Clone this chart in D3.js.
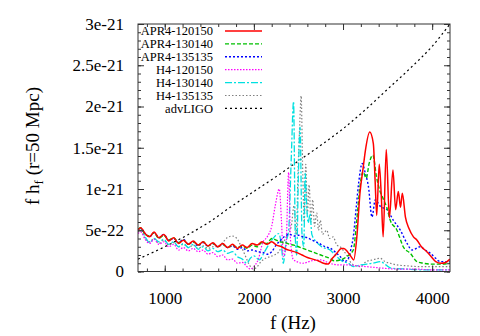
<!DOCTYPE html>
<html><head><meta charset="utf-8">
<script src="https://cdn.jsdelivr.net/npm/d3@7"></script>
<style>
body{margin:0;background:#fff;}
text{font-family:"Liberation Serif","DejaVu Serif",serif;}
</style></head>
<body><svg id="c" width="480" height="336"></svg>
<script>
// values in units of 1e-22
const seriesNames = ["APR4-120150","APR4-130140","APR4-135135","H4-120150","H4-130140","H4-135135","advLIGO"];
const seriesColors = ["#ff0000","#00c000","#0000ff","#ff00ff","#00e0e0","#808080","#000000"];
const seriesDash = [null,"4,2","2,2","1.5,1.5","7,2,2,2","1.5,2","2,3"];
const seriesWidth = [1.5,1.4,1.4,1.2,1.3,1.2,1.2];

const apr4_120150 = [[700,5.0],[730,5.3],[780,4.6],[830,4.2],[880,4.8],[935,4.1],[990,4.5],[1045,3.7],[1100,4.1],[1155,3.4],[1210,3.8],[1265,3.3],[1320,3.7],[1375,3.2],[1430,3.6],[1485,3.1],[1540,3.5],[1595,3.0],[1650,3.4],[1705,2.9],[1760,3.3],[1815,2.8],[1870,3.2],[1925,2.9],[1980,3.4],[2035,3.2],[2090,3.6],[2145,3.3],[2200,3.6],[2255,3.2],[2310,3.0],[2360,2.7],[2420,2.5],[2480,2.3],[2540,2.0],[2600,1.7],[2660,1.5],[2720,1.3],[2780,1.0],[2830,0.9],[2880,1.6],[2930,2.2],[2980,2.8],[3010,2.8],[3050,2.4],[3090,1.8],[3120,1.4],[3155,4.2],[3190,9.5],[3225,12.5],[3250,14.6],[3300,16.9],[3340,15.5],[3360,11],[3378,6.8],[3406,13.0],[3430,9],[3450,4.2],[3485,14.8],[3520,6.5],[3560,12.3],[3590,7.5],[3620,9.7],[3645,7.8],[3665,9.5],[3700,6.6],[3740,5.2],[3790,4.2],[3830,3.8],[3880,3.0],[3940,2.4],[3990,1.8],[4040,1.2],[4100,1.0],[4150,1.1],[4200,1.5]];
const apr4_130140 = [[700,5.1],[730,5.3],[780,4.5],[830,4.3],[880,4.7],[935,4.0],[990,4.4],[1045,3.8],[1100,4.1],[1155,3.5],[1210,3.8],[1265,3.3],[1320,3.6],[1375,3.2],[1430,3.6],[1485,3.1],[1540,3.4],[1595,3.0],[1650,3.3],[1705,2.9],[1760,3.2],[1815,2.9],[1870,3.1],[1925,2.8],[1980,3.2],[2035,3.0],[2090,3.5],[2145,3.4],[2200,4.0],[2250,3.8],[2300,3.6],[2350,3.5],[2400,3.3],[2450,3.2],[2500,3.0],[2550,2.8],[2600,2.6],[2650,2.4],[2700,2.2],[2750,2.0],[2800,1.8],[2850,1.6],[2900,1.3],[2970,1.4],[3040,1.8],[3115,2.6],[3154,6.2],[3190,10.3],[3225,12.1],[3260,11.3],[3293,13.1],[3335,14.1],[3375,11.5],[3410,9.9],[3455,8.7],[3490,7.8],[3530,6.2],[3605,5.0],[3640,4.0],[3675,3.0],[3755,2.2],[3830,1.2],[3900,1.0],[3980,0.9],[4100,0.9],[4200,1.0]];
const apr4_135135 = [[700,5.2],[730,5.2],[780,4.6],[830,4.2],[880,4.7],[935,4.1],[990,4.5],[1045,3.8],[1100,4.0],[1155,3.5],[1210,3.9],[1265,3.3],[1320,3.6],[1375,3.1],[1430,3.5],[1485,3.1],[1540,3.4],[1595,3.0],[1650,3.3],[1705,2.9],[1760,3.1],[1815,2.7],[1870,2.9],[1925,2.5],[1980,2.6],[2040,2.4],[2100,2.3],[2150,2.1],[2200,2.4],[2250,3.2],[2300,3.8],[2350,4.3],[2400,4.5],[2450,4.3],[2500,4.4],[2550,4.2],[2600,4.1],[2650,3.8],[2700,3.6],[2750,3.3],[2800,3.0],[2860,2.8],[2920,2.3],[2970,1.8],[3020,1.2],[3060,1.6],[3090,2.8],[3115,4.2],[3150,8],[3175,10.7],[3216,13.1],[3250,11.9],[3285,10.3],[3325,6.6],[3362,8.7],[3418,7.9],[3493,7.5],[3565,6.2],[3643,5.0],[3718,3.4],[3775,2.6],[3868,3.0],[3920,2.6],[3980,2.2],[4040,1.6],[4090,1.2],[4200,1.2]];
const h4_120150 = [[700,4.6],[730,4.8],[780,3.9],[830,3.4],[880,3.9],[935,3.3],[990,3.6],[1045,3.0],[1100,3.3],[1155,2.6],[1210,2.9],[1265,2.5],[1320,2.8],[1375,2.4],[1430,2.6],[1485,2.1],[1540,2.3],[1595,1.8],[1650,2.0],[1705,1.4],[1760,1.5],[1815,1.0],[1870,1.1],[1920,0.6],[1960,0.3],[2000,0.6],[2050,1.5],[2100,3.5],[2150,4.2],[2200,5.5],[2240,8],[2285,10.0],[2310,6],[2330,1.8],[2360,3],[2390,12.0],[2410,4],[2440,1.5],[2480,1.2],[2550,1.0],[2650,1.3],[2750,1.4],[2850,1.0],[2950,0.8],[3050,0.8],[3150,0.7],[3250,0.6],[3350,0.5],[3450,0.4],[3600,0.3],[3800,0.3],[4000,0.2],[4200,0.2]];
const h4_130140 = [[700,5.0],[730,5.2],[780,4.2],[830,3.5],[880,4.0],[935,3.6],[990,3.9],[1045,3.3],[1100,3.6],[1155,3.0],[1210,3.4],[1265,2.9],[1320,3.3],[1375,2.7],[1430,3.0],[1485,2.5],[1540,2.8],[1595,2.4],[1650,2.6],[1705,2.2],[1760,2.4],[1815,1.8],[1870,1.5],[1920,1.0],[1960,1.6],[2000,1.9],[2060,1.4],[2120,2.4],[2180,3.5],[2230,4.2],[2280,4.6],[2310,3.0],[2330,1.0],[2360,3.5],[2390,5.0],[2420,14],[2445,20.6],[2465,4],[2480,2],[2500,12],[2518,17.5],[2540,4.5],[2560,3],[2575,11.9],[2592,7.9],[2610,5.9],[2630,7],[2650,4.5],[2700,3.6],[2760,3.0],[2855,2.6],[2930,1.8],[3000,1.2],[3060,1.0],[3115,0.6],[3200,0.8],[3330,1.0],[3420,1.2],[3480,0.8],[3540,0.4],[3700,0.3],[3900,0.2],[4200,0.2]];
const h4_135135 = [[700,4.8],[730,5.0],[780,4.0],[830,3.6],[880,4.0],[935,3.4],[990,3.8],[1045,3.2],[1100,3.5],[1155,3.0],[1210,3.3],[1265,2.9],[1320,3.2],[1375,2.8],[1430,3.1],[1485,2.8],[1540,3.0],[1595,3.0],[1650,3.5],[1700,4.1],[1760,4.3],[1810,4.0],[1850,3.2],[1900,2.0],[1950,0.8],[1990,0.3],[2030,0.5],[2080,1.2],[2130,1.6],[2180,1.8],[2230,2.0],[2280,2.4],[2330,3.5],[2380,4.5],[2420,5.5],[2450,8],[2475,4.5],[2495,12],[2515,18],[2530,21.3],[2548,12],[2565,6],[2582,13],[2600,7],[2620,10.5],[2640,6],[2660,8.7],[2680,5.5],[2705,7.1],[2725,5.0],[2745,6.2],[2770,4.5],[2818,5.0],[2850,4.0],[2890,4.2],[2930,3.2],[2968,3.0],[3000,2.6],[3040,2.0],[3080,1.2],[3120,0.8],[3190,0.6],[3260,1.2],[3330,1.4],[3418,1.6],[3470,1.2],[3530,1.0],[3600,0.8],[3700,0.7],[3850,0.6],[4000,0.6],[4200,0.6]];
const advLIGO = [[700,1.5],[1000,3.0],[1250,4.4],[1500,6.0],[1750,7.9],[2000,9.7],[2250,11.5],[2500,13.4],[2750,15.3],[3000,17.3],[3250,19.6],[3500,22.1],[3750,24.6],[4000,27.3],[4200,30]];
const seriesData = [apr4_120150,apr4_130140,apr4_135135,h4_120150,h4_130140,h4_135135,advLIGO];

const xTicks = [1000,2000,3000,4000];
const yTicks = [0,5,10,15,20,25,30];
const yTickLabels = ["0","5e-22","1e-21","1.5e-21","2e-21","2.5e-21","3e-21"];

const svg = d3.select("#c");
const L=138, R=450, T=24, B=271.5;
const x = d3.scaleLinear().domain([700,4200]).range([L,R]);
const y = d3.scaleLinear().domain([0,30]).range([B,T]);

svg.append("defs").append("clipPath").attr("id","clip")
  .append("rect").attr("x",L).attr("y",T).attr("width",R-L).attr("height",B-T);

// curves
const line = d3.line().x(d=>x(d[0])).y(d=>y(d[1])).curve(d3.curveMonotoneX);
const order = [6,5,4,3,2,1,0];
const g = svg.append("g").attr("clip-path","url(#clip)");
order.forEach(i=>{
  g.append("path").datum(seriesData[i]).attr("d",line)
   .attr("fill","none").attr("stroke",seriesColors[i]).attr("stroke-width",seriesWidth[i])
   .attr("stroke-dasharray",seriesDash[i]);
});

// axes with inward ticks
const minorX = d3.range(800,4200,200);
const minorY = d3.range(0,31,1);
function styleAx(sel){sel.select(".domain").remove();sel.selectAll("line").attr("stroke","#333");sel.selectAll("text").attr("font-size",17).attr("fill","#000").attr("font-family","Liberation Serif, serif");}
svg.append("g").attr("transform",`translate(0,${B})`).call(d3.axisBottom(x).tickValues(minorX).tickSize(-3).tickFormat("")).call(styleAx);
svg.append("g").attr("transform",`translate(0,${T})`).call(d3.axisTop(x).tickValues(minorX).tickSize(-3).tickFormat("")).call(styleAx);
svg.append("g").attr("transform",`translate(0,${B})`).call(d3.axisBottom(x).tickValues(xTicks).tickSize(-6).tickPadding(20).tickFormat(d=>d)).call(styleAx);
svg.append("g").attr("transform",`translate(0,${T})`).call(d3.axisTop(x).tickValues(xTicks).tickSize(-6).tickFormat("")).call(styleAx);
svg.append("g").attr("transform",`translate(${L},0)`).call(d3.axisLeft(y).tickValues(minorY).tickSize(-3).tickFormat("")).call(styleAx);
svg.append("g").attr("transform",`translate(${R},0)`).call(d3.axisRight(y).tickValues(minorY).tickSize(-3).tickFormat("")).call(styleAx);
svg.append("g").attr("transform",`translate(${L},0)`).call(d3.axisLeft(y).tickValues(yTicks).tickSize(-6).tickPadding(14).tickFormat((d,i)=>yTickLabels[i])).call(styleAx);
svg.append("g").attr("transform",`translate(${R},0)`).call(d3.axisRight(y).tickValues(yTicks).tickSize(-6).tickFormat("")).call(styleAx);

svg.append("rect").attr("x",L).attr("y",T).attr("width",R-L).attr("height",B-T)
  .attr("fill","none").attr("stroke","#333").attr("stroke-width",1);

// legend
seriesNames.forEach((n,i)=>{
  const yy = 31 + i*12.9;
  svg.append("text").attr("x",213).attr("y",yy+4.2).attr("text-anchor","end").attr("font-size",12.5).text(n);
  svg.append("line").attr("x1",225).attr("x2",262).attr("y1",yy).attr("y2",yy)
    .attr("stroke",seriesColors[i]).attr("stroke-width",seriesWidth[i]).attr("stroke-dasharray",seriesDash[i]);
});

// axis titles
svg.append("text").attr("x",293).attr("y",329).attr("text-anchor","middle").attr("font-size",19).text("f (Hz)");
const yl = svg.append("text").attr("transform","translate(39,146) rotate(-90)").attr("text-anchor","middle").attr("font-size",19);
yl.append("tspan").text("f h");
yl.append("tspan").attr("font-size",13).attr("dy",4).text("f");
yl.append("tspan").attr("dy",-4).text(" (r=50 Mpc)");
</script></body></html>
